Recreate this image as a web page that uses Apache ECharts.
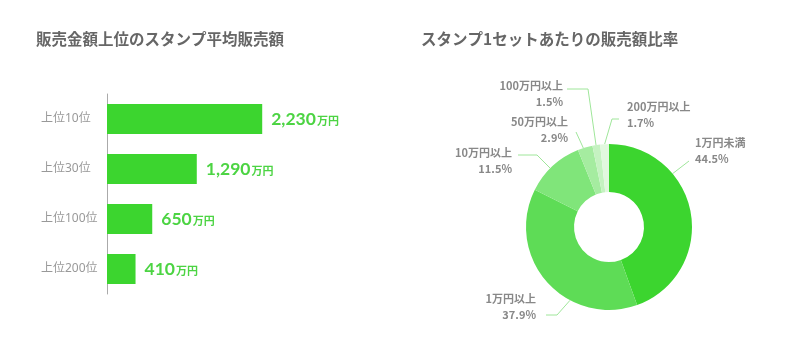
<!DOCTYPE html>
<html><head><meta charset="utf-8">
<script src="https://cdn.jsdelivr.net/npm/echarts@6/dist/echarts.min.js"></script>
<style>html,body{margin:0;padding:0;background:#fff}#c{width:800px;height:350px}</style>
</head><body><div id="c"></div>
<script>
const barCategories = ['上位10位', '上位30位', '上位100位', '上位200位'];
const barValues = [2230, 1290, 650, 410];
const barUnit = '万円';

const pieNames = ['1万円未満', '1万円以上', '10万円以上', '50万円以上', '100万円以上', '200万円以上'];
const pieValues = [44.5, 37.9, 11.5, 2.9, 1.5, 1.7];

const titles = ['販売金額上位のスタンプ平均販売額', 'スタンプ1セットあたりの販売額比率'];

const pieColors = ['#3cd52f', '#5edc56', '#80e57a', '#a5eca0', '#c5f2c1', '#e1f8de'];
const CX = 609, CY = 227, R_OUT = 83, R_IN = 35;

// label placement (styling only): anchor angle on outer edge, elbow, label anchor, alignment
const labelPlace = [
  {a: 50,  elbow: [689, 161], end: [689, 161], at: [695, 151], align: 'left'},
  {a: 208, elbow: [557, 315], end: [546, 315], at: [536, 307], align: 'right'},
  {a: 315, elbow: [537, 155], end: [518, 155], at: [512, 161], align: 'right'},
  {a: 342, elbow: [576, 132], end: [576, 132], at: [568, 130], align: 'right'},
  {a: 351, elbow: [588, 89],  end: [567, 89],  at: [563, 94],  align: 'right'},
  {a: 357, elbow: [612, 119], end: [619, 119], at: [627, 115], align: 'left'}
];
function edgePoint(deg) {
  const r = deg * Math.PI / 180;
  return [CX + R_OUT * Math.sin(r), CY - R_OUT * Math.cos(r)];
}

const chart = echarts.init(document.getElementById('c'), null, {renderer: 'canvas'});
const titleStyle = {color: '#666', fontSize: 15.5, fontWeight: 'bold', fontFamily: '"Noto Sans CJK JP", sans-serif'};

chart.setOption({
  animation: false,
  title: [
    {text: titles[0], left: 36, top: 31, padding: 0, textStyle: titleStyle},
    {text: titles[1], left: 421, top: 31, padding: 0, textStyle: titleStyle}
  ],
  grid: {left: 107, top: 94, height: 200, width: 174, containLabel: false},
  xAxis: {type: 'value', min: 0, max: 2500, show: false},
  yAxis: {
    type: 'category', inverse: true, data: barCategories,
    axisLine: {lineStyle: {color: '#aaa', width: 1}},
    axisTick: {show: false},
    axisLabel: {align: 'left', margin: 66, color: '#999', fontSize: 12, fontFamily: '"Noto Sans", "Noto Sans CJK JP", sans-serif'}
  },
  series: [
    {
      type: 'bar', data: barValues, barWidth: 30,
      itemStyle: {color: '#3cd52f'},
      label: {
        show: true, position: 'right', distance: 9,
        formatter: p => '{v|' + p.value.toLocaleString('en-US') + '}{u|' + barUnit + '}',
        rich: {
          v: {color: '#4cd443', fontSize: 17.5, fontWeight: 'bold', fontFamily: 'Lato, sans-serif'},
          u: {color: '#4cd443', fontSize: 11, fontWeight: 'bold', fontFamily: '"Noto Sans CJK JP", sans-serif', padding: [4, 0, 0, 1]}
        }
      }
    },
    {
      type: 'pie', center: [CX, CY], radius: [R_IN, R_OUT],
      startAngle: 90, clockwise: true,
      data: pieNames.map((n, i) => ({name: n, value: pieValues[i], itemStyle: {color: pieColors[i]}})),
      label: {
        show: true, position: 'outside', overflow: 'none', width: 120,
        formatter: p => p.name + '\n' + p.value.toFixed(1) + '%',
        color: '#888', fontSize: 11, fontWeight: 'bold', lineHeight: 16,
        fontFamily: '"Noto Sans CJK JP", sans-serif'
      },
      labelLine: {show: true, lineStyle: {color: '#9fe69a', width: 1}},
      labelLayout: function (params) {
        const L = labelPlace[params.dataIndex];
        return {
          x: L.at[0], y: L.at[1], align: L.align, verticalAlign: 'middle',
          labelLinePoints: [edgePoint(L.a), L.elbow, L.end]
        };
      }
    }
  ]
});
</script>
</body></html>
